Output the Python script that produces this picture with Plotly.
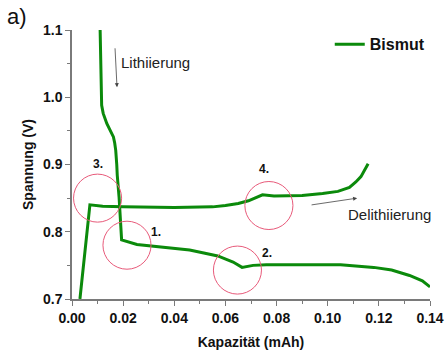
import plotly.graph_objects as go

# Lithiation (discharge) curve: capacity (mAh) vs. voltage (V)
lith_cap = [0.0110, 0.0112, 0.0113, 0.0116, 0.0122, 0.0130, 0.0136, 0.0145, 0.0153,
            0.0162, 0.0167, 0.0171, 0.0175, 0.0177, 0.0184, 0.0188, 0.0194, 0.0254,
            0.0305, 0.0400, 0.0460, 0.0520, 0.0570, 0.0630, 0.0665, 0.0708, 0.0760,
            0.0900, 0.1050, 0.1180, 0.1250, 0.1320, 0.1370, 0.1400]
lith_volt = [1.100, 1.055, 1.000, 0.988, 0.976, 0.966, 0.961, 0.954, 0.948,
             0.941, 0.932, 0.921, 0.900, 0.884, 0.852, 0.822, 0.788, 0.781,
             0.779, 0.776, 0.773, 0.768, 0.764, 0.755, 0.747, 0.750, 0.751,
             0.751, 0.751, 0.747, 0.743, 0.735, 0.727, 0.718]

# Delithiation (charge) curve
delith_cap = [0.0031, 0.0070, 0.0120, 0.0200, 0.0400, 0.0550, 0.0600, 0.0650, 0.0690,
              0.0730, 0.0745, 0.0790, 0.0900, 0.0980, 0.1040, 0.1085, 0.1110, 0.1130,
              0.1158]
delith_volt = [0.700, 0.840, 0.838, 0.837, 0.836, 0.837, 0.839, 0.842, 0.846,
               0.853, 0.855, 0.853, 0.854, 0.857, 0.860, 0.866, 0.874, 0.882,
               0.901]

# Highlighted regions: label, centre capacity, centre voltage, label position
marks = ["1.", "2.", "3.", "4."]
mark_cap = [0.0215, 0.0647, 0.0100, 0.0770]
mark_volt = [0.780, 0.743, 0.850, 0.839]
label_cap = [0.0329, 0.0763, 0.0100, 0.0751]
label_volt = [0.7994, 0.7682, 0.9006, 0.8932]

x_ticks = [0.00, 0.02, 0.04, 0.06, 0.08, 0.10, 0.12, 0.14]
y_ticks = [0.7, 0.8, 0.9, 1.0, 1.1]

GREEN = "#0b8a0b"
CIRCLE = "#e85a7a"
AXIS = "#7a7a7a"
FONT = "Liberation Sans, Arial, sans-serif"

fig = go.Figure()
fig.add_trace(go.Scatter(x=lith_cap, y=lith_volt, mode="lines", name="<b>Bismut</b>",
                         line=dict(color=GREEN, width=3), showlegend=True))
fig.add_trace(go.Scatter(x=delith_cap, y=delith_volt, mode="lines", name="Bismut",
                         line=dict(color=GREEN, width=3), showlegend=False))

rx, ry = 0.0094, 0.0357
for c, v in zip(mark_cap, mark_volt):
    fig.add_shape(type="circle", xref="x", yref="y",
                  x0=c - rx, x1=c + rx, y0=v - ry, y1=v + ry,
                  line=dict(color=CIRCLE, width=1))

for t, c, v in zip(marks, label_cap, label_volt):
    fig.add_annotation(x=c, y=v, text=f"<b>{t}</b>", showarrow=False,
                       font=dict(size=12, color="#111", family=FONT))

# Direction arrows and labels
fig.add_annotation(x=0.0176, y=1.015, ax=0.0168, ay=1.075, xref="x", yref="y",
                   axref="x", ayref="y", showarrow=True, arrowhead=2, arrowsize=1,
                   arrowwidth=0.8, arrowcolor="#444", text="")
fig.add_annotation(x=0.0184, y=1.052, text="Lithiierung", showarrow=False,
                   xanchor="left", font=dict(size=15, color="#222", family=FONT))
fig.add_annotation(x=0.1115, y=0.850, ax=0.0931, ay=0.8396, xref="x", yref="y",
                   axref="x", ayref="y", showarrow=True, arrowhead=2, arrowsize=1,
                   arrowwidth=0.8, arrowcolor="#444", text="")
fig.add_annotation(x=0.1072, y=0.826, text="Delithiierung", showarrow=False,
                   xanchor="left", font=dict(size=15, color="#222", family=FONT))

fig.add_annotation(xref="paper", yref="paper", x=-0.187, y=1.052, xanchor="left",
                   yanchor="middle", text="a)", showarrow=False,
                   font=dict(size=22, color="#111", family=FONT))

axis_common = dict(showline=True, linecolor=AXIS, linewidth=1.5, ticks="outside",
                   ticklen=5, tickwidth=1.2, tickcolor=AXIS, showgrid=False,
                   zeroline=False, mirror=False, automargin=False,
                   tickfont=dict(size=14, color="#111", family=FONT))

fig.update_xaxes(range=[0, 0.14], tickvals=x_ticks,
                 ticktext=[f"<b>{v:.2f}</b>" for v in x_ticks],
                 title=dict(text="<b>Kapazität (mAh)</b>", standoff=14,
                            font=dict(size=14, color="#111", family=FONT)),
                 minor=dict(dtick=0.01, ticks="outside", ticklen=3, tickcolor=AXIS),
                 **axis_common)
fig.update_yaxes(range=[0.7, 1.1], tickvals=y_ticks,
                 ticktext=[f"<b>{v:.1f}</b>" for v in y_ticks],
                 title=dict(text="<b>Spannung (V)</b>", standoff=6,
                            font=dict(size=14, color="#111", family=FONT)),
                 minor=dict(dtick=0.05, ticks="outside", ticklen=3, tickcolor=AXIS),
                 **axis_common)

fig.update_layout(
    width=446, height=350,
    margin=dict(l=72, r=16, t=30, b=51),
    paper_bgcolor="white", plot_bgcolor="white",
    font=dict(family=FONT),
    legend=dict(x=0.72, y=1.01, xanchor="left", yanchor="top",
                bgcolor="rgba(0,0,0,0)", borderwidth=0,
                font=dict(size=16, color="#111", family=FONT)),
)

fig.write_html("out.html")
